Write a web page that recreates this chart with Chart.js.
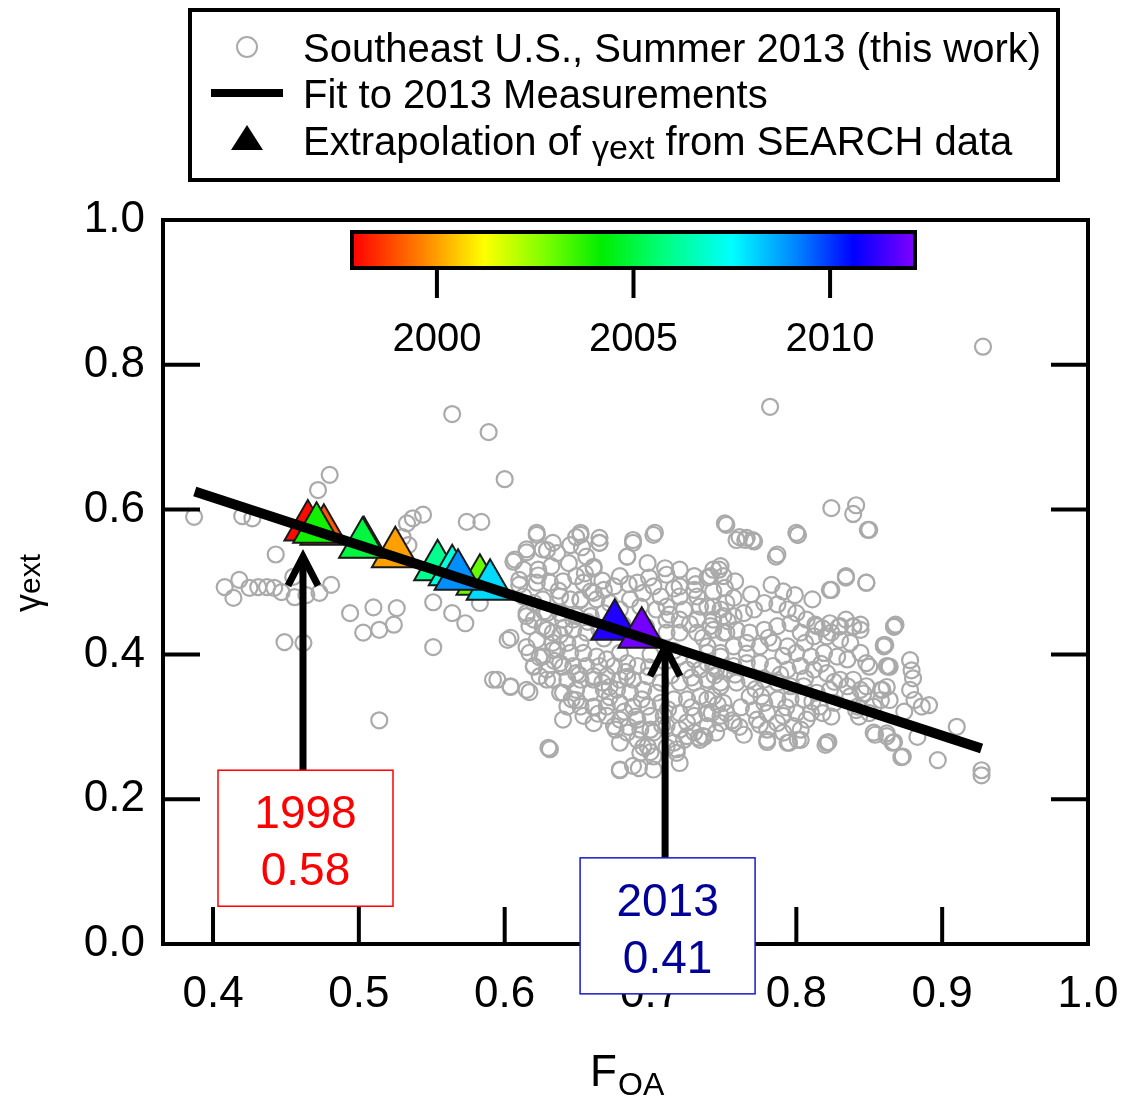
<!DOCTYPE html>
<html><head><meta charset="utf-8">
<script src="https://cdn.jsdelivr.net/npm/chart.js@4.4.0/dist/chart.umd.min.js"></script>
<style>html,body{margin:0;padding:0;background:#fff}#wrap{width:1124px;height:1104px;position:relative}</style>
</head><body><div id="wrap"><canvas id="c" width="1124" height="1104"></canvas></div>
<script>
const FONT = '"Liberation Sans", Arial, Helvetica, sans-serif';
// axes
const xTicks = [0.4, 0.5, 0.6, 0.7, 0.8, 0.9, 1.0];
const yTicks = [0.0, 0.2, 0.4, 0.6, 0.8, 1.0];
const xMin = 0.3657, xMax = 1.0, yMin = 0.0, yMax = 1.0;

// Southeast U.S., Summer 2013 measurements [F_OA, gamma_ext]
const meas = [
[0.387,0.590],[0.420,0.591],[0.427,0.588],[0.472,0.627],[0.480,0.648],[0.443,0.538],
[0.408,0.493],[0.414,0.478],[0.418,0.503],[0.425,0.492],[0.431,0.493],[0.437,0.493],[0.442,0.492],[0.447,0.486],[0.455,0.507],[0.456,0.479],[0.464,0.482],[0.473,0.485],[0.481,0.496],
[0.449,0.417],[0.462,0.416],[0.514,0.309],
[0.494,0.457],[0.510,0.465],[0.526,0.464],[0.503,0.430],[0.514,0.434],[0.524,0.441],
[0.551,0.472],[0.564,0.457],[0.573,0.443],[0.551,0.410],
[0.533,0.581],[0.537,0.588],[0.544,0.593],[0.574,0.583],[0.584,0.583],[0.530,0.562],[0.534,0.551],
[0.564,0.732],[0.589,0.707],[0.600,0.642],
[0.583,0.471],[0.602,0.420],[0.595,0.365],[0.604,0.355],[0.617,0.348],[0.630,0.271],
[0.622,0.568],[0.629,0.544],[0.615,0.541],[0.606,0.528],[0.610,0.503],[0.633,0.554],[0.649,0.562],[0.653,0.548],[0.665,0.554],[0.661,0.521],[0.684,0.535],
[0.615,0.457],[0.620,0.448],[0.626,0.438],[0.633,0.430],[0.638,0.457],[0.647,0.448],[0.652,0.475],[0.661,0.485],
[0.615,0.410],[0.624,0.396],[0.633,0.406],[0.640,0.383],[0.649,0.374],[0.661,0.365],[0.672,0.355],[0.684,0.369],[0.620,0.383],[0.629,0.365],
[0.638,0.347],[0.649,0.337],[0.661,0.327],[0.672,0.341],
[0.622,0.565],[0.652,0.565],[0.665,0.554],[0.688,0.554],[0.702,0.565],[0.645,0.551],[0.615,0.545],[0.626,0.545],[0.636,0.540],[0.607,0.531],[0.656,0.535],[0.684,0.535],[0.698,0.526],[0.710,0.519],[0.720,0.517],[0.730,0.508],[0.743,0.517],[0.748,0.522],
[0.613,0.517],[0.623,0.517],[0.632,0.522],[0.644,0.526],[0.649,0.508],[0.661,0.519],[0.679,0.508],[0.691,0.499],[0.702,0.494],[0.711,0.510],[0.720,0.494],[0.730,0.489],[0.739,0.506],[0.750,0.508],[0.610,0.496],[0.622,0.499],[0.631,0.499],[0.640,0.501],[0.654,0.499],[0.659,0.487],[0.668,0.489],[0.675,0.494],[0.695,0.485],[0.707,0.480],[0.720,0.480],[0.732,0.480],[0.743,0.487],
[0.613,0.480],[0.620,0.471],[0.626,0.476],[0.638,0.480],[0.645,0.476],[0.652,0.476],[0.663,0.476],[0.672,0.471],[0.686,0.476],[0.693,0.466],[0.704,0.462],[0.711,0.466],[0.723,0.462],[0.734,0.466],[0.743,0.466],[0.752,0.471],[0.615,0.453],[0.629,0.457],[0.640,0.448],[0.649,0.453],[0.659,0.453],[0.668,0.457],[0.679,0.462],[0.711,0.448],[0.720,0.448],[0.732,0.448],[0.743,0.448],[0.750,0.453],
[0.604,0.423],[0.617,0.439],[0.629,0.434],[0.638,0.427],[0.647,0.434],[0.656,0.430],[0.665,0.434],[0.711,0.430],[0.720,0.430],[0.732,0.430],[0.743,0.434],[0.752,0.430],[0.622,0.420],[0.633,0.416],[0.643,0.416],[0.652,0.416],
[0.617,0.402],[0.626,0.397],[0.636,0.407],[0.645,0.402],[0.654,0.402],[0.663,0.397],[0.670,0.393],[0.679,0.402],[0.720,0.397],[0.730,0.393],[0.739,0.402],[0.748,0.397],[0.620,0.384],[0.629,0.379],[0.638,0.388],[0.647,0.384],[0.656,0.384],[0.665,0.384],[0.675,0.384],[0.684,0.388],[0.691,0.384],[0.725,0.379],[0.734,0.379],[0.743,0.384],[0.752,0.379],
[0.700,0.400],[0.710,0.390],[0.716,0.405],
[0.592,0.365],[0.604,0.356],[0.615,0.351],[0.624,0.370],[0.633,0.365],[0.643,0.365],[0.652,0.365],[0.661,0.370],[0.670,0.370],[0.679,0.365],[0.688,0.365],[0.698,0.370],[0.707,0.361],[0.720,0.361],[0.730,0.361],[0.739,0.365],[0.748,0.361],[0.640,0.347],[0.649,0.351],[0.659,0.347],[0.668,0.351],[0.677,0.351],[0.686,0.347],[0.695,0.351],[0.704,0.347],
[0.643,0.328],[0.652,0.328],[0.661,0.328],[0.670,0.328],[0.679,0.333],[0.688,0.328],[0.698,0.328],[0.707,0.333],[0.716,0.338],[0.725,0.338],[0.734,0.342],[0.743,0.342],[0.640,0.310],[0.654,0.315],[0.670,0.315],[0.679,0.310],[0.691,0.310],[0.700,0.315],[0.709,0.315],[0.720,0.319],[0.730,0.315],[0.739,0.319],[0.748,0.315],
[0.661,0.305],[0.675,0.301],[0.684,0.292],[0.693,0.296],[0.702,0.292],[0.711,0.301],[0.720,0.296],[0.730,0.292],[0.739,0.301],[0.679,0.278],[0.691,0.282],[0.698,0.273],[0.716,0.278],[0.725,0.287],[0.734,0.282],[0.631,0.269],[0.693,0.264],[0.702,0.259],[0.718,0.269],
[0.679,0.241],[0.688,0.246],[0.702,0.241],[0.720,0.250],
[0.752,0.579],[0.759,0.558],[0.765,0.558],[0.771,0.556],[0.801,0.565],[0.850,0.572],[0.787,0.538],[0.747,0.517],[0.741,0.508],[0.758,0.501],[0.751,0.492],[0.783,0.496],[0.799,0.482],[0.811,0.476],[0.823,0.489],[0.834,0.508],[0.848,0.499],[0.867,0.439],[0.860,0.413],[0.848,0.388],[0.862,0.384],
[0.739,0.466],[0.748,0.462],[0.757,0.453],[0.764,0.457],[0.771,0.462],[0.778,0.471],[0.787,0.469],[0.794,0.462],[0.800,0.457],[0.807,0.448],[0.814,0.439],[0.823,0.443],[0.830,0.439],[0.839,0.439],[0.844,0.434],
[0.741,0.439],[0.750,0.430],[0.759,0.434],[0.768,0.430],[0.778,0.434],[0.787,0.439],[0.796,0.443],[0.803,0.430],[0.812,0.425],[0.821,0.425],[0.830,0.420],[0.837,0.416],
[0.739,0.411],[0.748,0.402],[0.757,0.411],[0.766,0.416],[0.775,0.411],[0.784,0.416],[0.794,0.411],[0.800,0.402],[0.810,0.397],[0.819,0.402],[0.828,0.397],[0.835,0.393],[0.844,0.402],
[0.739,0.388],[0.745,0.379],[0.757,0.384],[0.766,0.388],[0.775,0.388],[0.784,0.384],[0.794,0.379],[0.803,0.384],[0.812,0.379],[0.821,0.374],[0.830,0.365],[0.839,0.365],[0.848,0.356],[0.858,0.351],
[0.739,0.365],[0.748,0.356],[0.759,0.361],[0.768,0.365],[0.778,0.365],[0.787,0.361],[0.796,0.356],[0.805,0.356],[0.814,0.347],[0.823,0.351],[0.835,0.356],[0.844,0.351],
[0.739,0.338],[0.750,0.333],[0.768,0.342],[0.778,0.333],[0.787,0.338],[0.796,0.338],[0.805,0.338],[0.816,0.328],[0.826,0.333],[0.842,0.328],[0.853,0.328],
[0.739,0.319],[0.752,0.319],[0.771,0.323],[0.780,0.319],[0.791,0.315],[0.800,0.319],[0.810,0.319],
[0.748,0.305],[0.757,0.305],[0.773,0.310],[0.787,0.305],[0.798,0.301],[0.807,0.310],
[0.736,0.287],[0.745,0.292],[0.780,0.296],[0.791,0.292],[0.803,0.296],
[0.780,0.282],[0.794,0.278],[0.803,0.282],[0.821,0.278],[0.853,0.292],[0.862,0.287],
[0.824,0.602],[0.841,0.606],[0.839,0.594],[0.849,0.572],[0.751,0.581],[0.800,0.568],[0.782,0.742],[0.928,0.825],[0.652,0.568],[0.665,0.561],[0.688,0.558],[0.703,0.568],[0.761,0.562],[0.766,0.561],[0.770,0.558],
[0.910,0.300],[0.897,0.254],[0.927,0.233],[0.927,0.240],[0.867,0.438],[0.860,0.411],[0.850,0.383],[0.864,0.383],
[0.878,0.392],[0.879,0.378],[0.880,0.367],[0.878,0.351],[0.881,0.337],[0.874,0.321],[0.886,0.328],[0.891,0.330],
[0.854,0.289],[0.867,0.279],[0.873,0.259],
[0.841,0.323],[0.843,0.314],[0.850,0.319],[0.858,0.337],[0.862,0.355],[0.846,0.346],[0.837,0.342],
[0.848,0.499],[0.834,0.506],[0.824,0.489],[0.801,0.565],[0.786,0.535],
[0.813,0.441],[0.818,0.436],[0.824,0.430],[0.829,0.438],[0.834,0.448],[0.839,0.438],[0.844,0.441],
[0.822,0.279],[0.820,0.275],[0.795,0.278],[0.801,0.282],[0.780,0.279],[0.818,0.319],[0.824,0.314],
[0.679,0.240],[0.692,0.243],[0.695,0.272],[0.700,0.265],[0.711,0.272],[0.718,0.264],[0.723,0.282],[0.733,0.285],[0.737,0.286],[0.676,0.296],[0.685,0.300],[0.700,0.296],[0.756,0.309],[0.761,0.300],[0.742,0.319],
[0.868,0.441],[0.861,0.413],[0.863,0.383],[0.872,0.258],[0.866,0.278],[0.883,0.286],[0.862,0.291],[0.859,0.351],[0.864,0.337],
[0.627,0.459],[0.641,0.437],[0.657,0.445],[0.668,0.422],[0.681,0.441],[0.697,0.438],[0.713,0.455],[0.727,0.442],[0.736,0.423],[0.753,0.446],[0.766,0.401],[0.781,0.423],[0.791,0.398],[0.806,0.416],[0.817,0.387],
[0.634,0.391],[0.651,0.372],[0.667,0.361],[0.683,0.376],[0.699,0.382],[0.714,0.371],[0.728,0.368],[0.744,0.371],[0.758,0.372],[0.772,0.352],[0.789,0.372],[0.806,0.367],[0.826,0.362],
[0.646,0.338],[0.664,0.318],[0.682,0.321],[0.694,0.338],[0.712,0.324],[0.728,0.327],[0.746,0.331],[0.762,0.327],[0.776,0.342],[0.793,0.327],[0.811,0.335],
[0.623,0.509],[0.637,0.488],[0.655,0.512],[0.667,0.502],[0.685,0.497],[0.699,0.506],[0.716,0.491],[0.731,0.497],[0.757,0.478],[0.769,0.483],[0.791,0.487],
[0.690,0.314],[0.708,0.302],[0.725,0.306],[0.764,0.289],[0.775,0.303]
];

// Fit to 2013 measurements (end points)
const fitX = [0.3875, 0.927];
const fitY = [0.625, 0.270];

// Extrapolation of gamma_ext from SEARCH data (drawn in year order)
const triYears = [1998, 1999, 2000, 2001, 2003, 2004, 2005, 2006, 2007, 2008, 2009, 2011, 2012];
const triF     = [0.465, 0.476, 0.525, 0.5035, 0.583, 0.471, 0.5025, 0.554, 0.564, 0.590, 0.568, 0.6755, 0.694];
const triG     = [0.576, 0.570, 0.539, 0.553, 0.501, 0.573, 0.552, 0.521, 0.514, 0.494, 0.508, 0.439, 0.428];

// colour bar
const cbMin = 1997.84, cbMax = 2012.16;
const cbTicks = [2000, 2005, 2010];
const cmapYears  = [1997.84, 1999.6, 2001.2, 2002.7, 2004.2, 2005.8, 2007.5, 2009.2, 2010.6, 2012.16];
const cmapColors = ['#ff0000','#ff8000','#ffff00','#80ff00','#00ee00','#00ff80','#00ffff','#0080ff','#0000ff','#8000ff'];

// annotations
const annYear = ['1998', '2013'];
const annVal  = ['0.58', '0.41'];
const annF    = [0.4617, 0.710];
const annTipG = [0.535, 0.410];
const annBoxTopG = [0.240, 0.119];
const annText = ['#ff0000', '#000099'];
const annBorder = ['#ff0000', '#1a1acc'];

const legendText = ['Southeast U.S., Summer 2013 (this work)', 'Fit to 2013 Measurements', 'Extrapolation of ', 'γext', ' from SEARCH data'];

function hexToRgb(h){return [parseInt(h.substr(1,2),16),parseInt(h.substr(3,2),16),parseInt(h.substr(5,2),16)];}
function yearColor(y){
  if (y <= cmapYears[0]) return cmapColors[0];
  for (let i=1;i<cmapYears.length;i++){
    if (y <= cmapYears[i]){
      const t=(y-cmapYears[i-1])/(cmapYears[i]-cmapYears[i-1]);
      const a=hexToRgb(cmapColors[i-1]), b=hexToRgb(cmapColors[i]);
      const c=a.map((v,k)=>Math.round(v+(b[k]-v)*t));
      return `rgb(${c[0]},${c[1]},${c[2]})`;
    }
  }
  return cmapColors[cmapColors.length-1];
}

const decor = {
  id: 'decor',
  afterDraw(chart){
    const ctx = chart.ctx, ca = chart.chartArea;
    const xs = chart.scales.x, ys = chart.scales.y;
    ctx.save();
    // frame
    ctx.strokeStyle = '#000'; ctx.lineWidth = 4; ctx.lineCap='butt';
    ctx.strokeRect(ca.left, ca.top, ca.right-ca.left, ca.bottom-ca.top);
    // inward ticks
    const TL = 37;
    ctx.beginPath();
    yTicks.forEach(v=>{ if(v>yMin && v<yMax){ const p=ys.getPixelForValue(v);
      ctx.moveTo(ca.left, p); ctx.lineTo(ca.left+TL, p);
      ctx.moveTo(ca.right, p); ctx.lineTo(ca.right-TL, p);} });
    xTicks.forEach(v=>{ if(v<xMax){ const p=xs.getPixelForValue(v);
      ctx.moveTo(p, ca.bottom); ctx.lineTo(p, ca.bottom-TL);} });
    ctx.stroke();

    // colour bar
    const cbL = ca.left+189, cbR = ca.left+752, cbT = ca.top+12, cbB = ca.top+48;
    const g = ctx.createLinearGradient(cbL,0,cbR,0);
    cmapYears.forEach((y,i)=>g.addColorStop((y-cbMin)/(cbMax-cbMin), cmapColors[i]));
    ctx.fillStyle = g; ctx.fillRect(cbL, cbT, cbR-cbL, cbB-cbT);
    ctx.lineWidth = 4; ctx.strokeStyle='#000'; ctx.strokeRect(cbL, cbT, cbR-cbL, cbB-cbT);
    ctx.lineWidth = 4; ctx.beginPath();
    ctx.font = `40px ${FONT}`; ctx.fillStyle='#000'; ctx.textAlign='center'; ctx.textBaseline='alphabetic';
    cbTicks.forEach(y=>{ const px = cbL + (y-cbMin)/(cbMax-cbMin)*(cbR-cbL);
      ctx.moveTo(px, cbB); ctx.lineTo(px, cbB+30); ctx.fillText(String(y), px, cbB+83); });
    ctx.stroke();

    // annotations with arrows
    for (let i=0;i<annF.length;i++){
      const ax = xs.getPixelForValue(annF[i]);
      const tipY = ys.getPixelForValue(annTipG[i]);
      const boxT = ys.getPixelForValue(annBoxTopG[i]);
      ctx.strokeStyle='#000'; ctx.lineWidth=7; ctx.lineJoin='miter'; ctx.lineCap='butt';
      ctx.beginPath(); ctx.moveTo(ax, tipY+4); ctx.lineTo(ax, boxT); ctx.stroke();
      ctx.beginPath(); ctx.moveTo(ax-15, tipY+29); ctx.lineTo(ax, tipY); ctx.lineTo(ax+15, tipY+29); ctx.stroke();
      const bw=175, bh=136, bx=ax-85;
      ctx.fillStyle='#fff'; ctx.fillRect(bx, boxT, bw, bh);
      ctx.strokeStyle=annBorder[i]; ctx.lineWidth=1.5; ctx.strokeRect(bx, boxT, bw, bh);
      ctx.fillStyle=annText[i]; ctx.font=`46px ${FONT}`; ctx.textAlign='center'; ctx.textBaseline='alphabetic';
      ctx.fillText(annYear[i], bx+bw/2, boxT+58);
      ctx.fillText(annVal[i], bx+bw/2, boxT+115);
    }

    // legend
    ctx.strokeStyle='#000'; ctx.lineWidth=4; ctx.strokeRect(190,10,868,170);
    ctx.strokeStyle='#aaaaaa'; ctx.lineWidth=2; ctx.beginPath(); ctx.arc(247,47,10,0,Math.PI*2); ctx.stroke();
    ctx.strokeStyle='#000'; ctx.lineWidth=8; ctx.beginPath(); ctx.moveTo(211,93); ctx.lineTo(283,93); ctx.stroke();
    ctx.fillStyle='#000'; ctx.beginPath(); ctx.moveTo(247,125); ctx.lineTo(263,150); ctx.lineTo(231,150); ctx.closePath(); ctx.fill();
    ctx.textAlign='left'; ctx.textBaseline='alphabetic'; ctx.fillStyle='#000';
    ctx.font=`40px ${FONT}`;
    ctx.fillText(legendText[0], 303, 62);
    ctx.fillText(legendText[1], 303, 108);
    ctx.fillText(legendText[2], 303, 155);
    let lx = 303 + ctx.measureText(legendText[2]).width;
    ctx.font=`34px ${FONT}`; ctx.fillText(legendText[3], lx, 159);
    lx += ctx.measureText(legendText[3]).width;
    ctx.font=`40px ${FONT}`; ctx.fillText(legendText[4], lx, 155);

    // axis titles
    ctx.font=`44px ${FONT}`; ctx.fillText('F', 590, 1086);
    ctx.font=`32px ${FONT}`; ctx.fillText('OA', 618, 1095);
    ctx.save(); ctx.translate(40, 583); ctx.rotate(-Math.PI/2);
    ctx.font=`36px ${FONT}`; const w1=ctx.measureText('γ').width;
    ctx.font=`30px ${FONT}`; const w2=ctx.measureText('ext').width;
    let sx=-(w1+w2)/2;
    ctx.font=`36px ${FONT}`; ctx.fillText('γ', sx, 0);
    ctx.font=`30px ${FONT}`; ctx.fillText('ext', sx+w1, 0);
    ctx.restore();
    ctx.restore();
  }
};

new Chart(document.getElementById('c'), {
  data: {
    datasets: [
      { type:'line', data: fitX.map((x,i)=>({x, y:fitY[i]})), borderColor:'#000', borderWidth:10, pointRadius:0, borderCapStyle:'butt', order:0 },
      { type:'scatter', data: triF.map((x,i)=>({x, y:triG[i]})), pointStyle:'triangle', pointRadius:27,
        backgroundColor: triYears.map(yearColor), borderColor:'#1a1a1a', borderWidth:2, order:1 },
      { type:'scatter', data: meas.map(p=>({x:p[0], y:p[1]})), pointStyle:'circle', pointRadius:8,
        borderColor:'#aaaaaa', backgroundColor:'rgba(0,0,0,0)', borderWidth:2.2, order:2 }
    ]
  },
  options: {
    responsive:false, animation:false, events:[],
    layout:{ padding:{ left:0, right:36, top:220, bottom:0 } },
    plugins:{ legend:{display:false}, tooltip:{enabled:false} },
    scales:{
      x:{ type:'linear', min:xMin, max:xMax,
          afterBuildTicks: s=>{ s.ticks = xTicks.map(v=>({value:v})); },
          afterFit: s=>{ s.height = 160; s.paddingLeft = 0; s.paddingRight = 0; },
          grid:{ display:false, drawTicks:false }, border:{ display:false },
          ticks:{ font:{ size:44, family:FONT }, color:'#000', padding:24, autoSkip:false, maxRotation:0,
                  callback: v=>Number(v).toFixed(1) } },
      y:{ type:'linear', min:yMin, max:yMax,
          afterBuildTicks: s=>{ s.ticks = yTicks.map(v=>({value:v})); },
          afterFit: s=>{ s.width = 163; s.paddingTop = 0; s.paddingBottom = 0; },
          grid:{ display:false, drawTicks:false }, border:{ display:false },
          ticks:{ font:{ size:44, family:FONT }, color:'#000', padding:18,
                  callback: v=>Number(v).toFixed(1) } }
    }
  },
  plugins:[decor]
});
</script></body></html>
